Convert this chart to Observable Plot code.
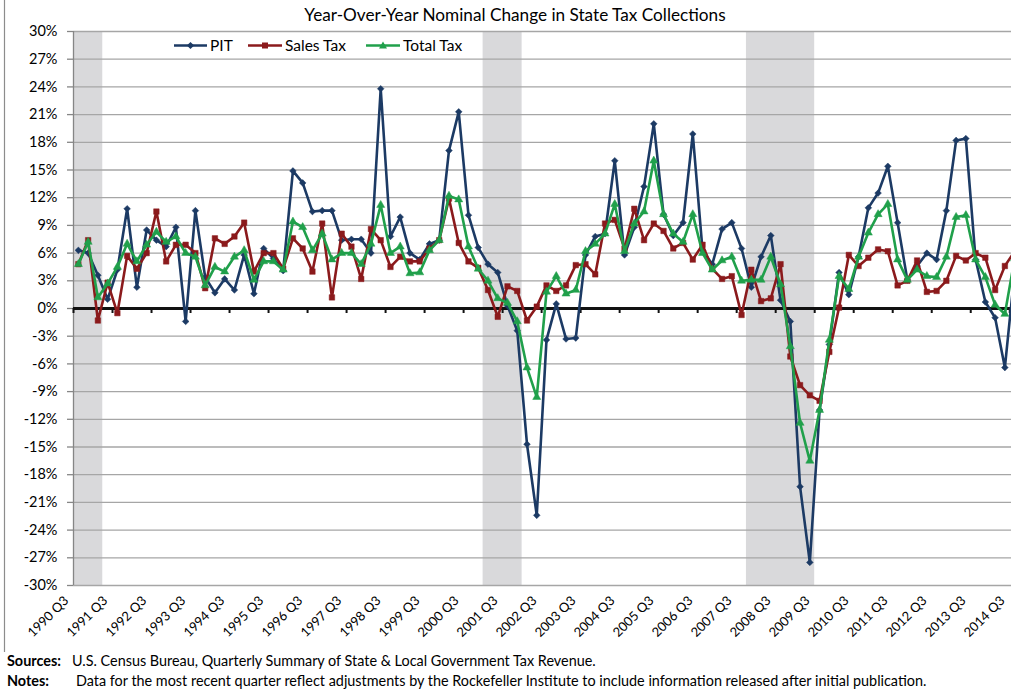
<!DOCTYPE html>
<html><head><meta charset="utf-8">
<script src="https://cdn.jsdelivr.net/npm/d3@7"></script>
<script src="https://cdn.jsdelivr.net/npm/@observablehq/plot@0.6"></script>
<style>
html,body{margin:0;padding:0;background:#fff;overflow:hidden;}
#wrap{position:relative;width:1011px;height:692px;overflow:hidden;font-family:Lato,"Open Sans",sans-serif;color:#000;}
#title{position:absolute;left:0;width:1030px;top:4px;text-align:center;font-size:17.2px;}
#chart{position:absolute;left:0;top:0;}
.note{position:absolute;font-size:14.4px;white-space:nowrap;}
.note b{position:absolute;left:0;}
.note span{position:absolute;}
</style></head>
<body><div id="wrap">
<div id="chart"></div>
<div id="title">Year-Over-Year Nominal Change in State Tax Collections</div>
<div class="note" style="left:7px;top:652px;"><b>Sources:</b><span style="left:65px">U.S. Census Bureau, Quarterly Summary of State &amp; Local Government Tax Revenue.</span></div>
<div class="note" style="left:7px;top:672px;"><b>Notes:</b><span style="left:69px">Data for the most recent quarter reflect adjustments by the Rockefeller Institute to include information released after initial publication.</span></div>
</div>
<script>
const tickLabels = ["1990 Q3","1991 Q3","1992 Q3","1993 Q3","1994 Q3","1995 Q3","1996 Q3","1997 Q3","1998 Q3","1999 Q3","2000 Q3","2001 Q3","2002 Q3","2003 Q3","2004 Q3","2005 Q3","2006 Q3","2007 Q3","2008 Q3","2009 Q3","2010 Q3","2011 Q3","2012 Q3","2013 Q3","2014 Q3"];
const pit = [6.3,6.0,3.6,1.0,4.2,10.8,2.3,8.5,7.4,6.7,
  8.8,-1.4,10.6,3.4,1.7,3.2,2.0,5.8,1.6,6.5,
  5.4,4.1,14.9,13.6,10.5,10.6,10.6,7.4,7.5,7.5,
  6.0,23.8,7.8,9.9,6.0,5.3,7.0,7.4,17.1,21.3,
  10.1,6.6,4.8,3.9,0.3,-2.4,-14.7,-22.4,-3.4,0.5,
  -3.3,-3.2,5.8,7.8,8.1,16.0,5.8,8.8,13.2,20.0,
  10.2,7.9,9.3,18.9,6.3,4.8,8.6,9.3,6.5,2.3,
  5.6,7.9,0.9,-1.4,-19.3,-27.5,-11.0,-3.9,3.9,1.5,
  5.6,10.9,12.5,15.4,9.3,3.1,4.6,6.0,5.3,10.6,
  18.2,18.4,5.3,0.7,-1.0,-6.4,4.0];
const sales = [4.8,7.4,-1.3,2.8,-0.5,5.7,4.3,6.0,10.5,5.1,
  6.9,6.9,6.0,2.2,7.6,7.0,7.8,9.3,4.0,6.0,
  6.0,4.3,7.6,6.5,4.0,9.2,1.2,8.1,6.7,3.2,
  8.6,7.4,4.5,5.6,5.1,5.1,6.5,7.4,11.9,7.1,
  5.1,4.4,2.0,-0.9,2.4,1.9,-1.3,0.2,2.5,1.9,
  2.5,4.7,4.8,3.7,9.2,9.6,6.5,10.8,7.4,9.2,
  8.4,6.5,7.1,5.3,6.9,4.3,3.2,3.5,-0.7,4.2,
  0.8,1.1,4.8,-5.2,-8.3,-9.4,-10.0,-4.7,0.1,5.8,
  4.6,5.5,6.4,6.2,2.5,3.0,5.2,1.8,1.9,3.0,
  5.7,5.2,6.0,5.5,2.0,4.6,6.2];
const total = [4.8,7.2,1.2,2.7,4.5,7.0,5.1,6.9,8.3,7.2,
  7.8,6.0,5.6,2.5,4.5,4.0,5.6,6.3,3.1,5.1,
  5.1,4.2,9.4,8.8,6.3,8.1,5.3,6.0,6.0,4.8,
  7.0,11.2,6.0,6.7,3.8,3.9,6.3,7.4,12.2,11.8,
  6.7,4.3,3.0,1.1,0.6,-1.4,-6.4,-9.6,1.8,3.5,
  1.6,2.0,6.2,7.0,8.1,11.3,6.2,9.2,10.5,16.0,
  10.2,8.1,7.2,10.2,6.0,4.2,5.2,5.6,3.0,3.1,
  3.1,5.6,2.6,-4.1,-12.4,-16.5,-11.0,-3.4,3.5,2.1,
  5.6,8.2,10.2,11.3,5.3,3.1,4.2,3.5,3.4,5.6,
  9.9,10.1,5.3,3.4,0.4,-0.6,5.4];
// recession quarters (first and last category index)
const recessions = [[0,2],[42,45],[69,75]];
const yTicks = d3.range(-30, 31, 3);

const C = {pit:"#1c3a64", sales:"#8b1a1c", total:"#20a04b", grid:"#a6a6a6", axis:"#868686", shade:"#d9d9db"};
const rows = pit.map((v,i) => ({i, pit:v, sales:sales[i], total:total[i]}));
const font = "Lato, 'Open Sans', sans-serif";

const chart = Plot.plot({
  width: 1020, height: 650,
  marginLeft: 73, marginRight: 1, marginTop: 31, marginBottom: 65,
  style: "max-width:none;background:transparent;font-family:Lato,'Open Sans',sans-serif;",
  x: {domain: [-0.5, pit.length - 0.5], axis: null},
  y: {domain: [-30, 30], axis: null},
  marks: [
    Plot.rect(recessions, {x1: d => d[0] - 0.5, x2: d => d[1] + 0.5, y1: -30, y2: 30, fill: C.shade}),
    Plot.ruleY(yTicks.filter(v => v !== 0), {stroke: C.grid, strokeWidth: 1.3}),
    Plot.ruleX([-0.5], {y1: -30, y2: 30, stroke: C.axis, strokeWidth: 1.3}),
    Plot.ruleY(yTicks, {x1: -0.5, x2: -0.5, insetLeft: -6, stroke: C.axis, strokeWidth: 1.3}),
    Plot.text(yTicks, {y: d => d, text: d => `${d}%`, frameAnchor: "left", textAnchor: "end", dx: -16, fontSize: 14.5, fill: "#000", fontFamily: font}),
    Plot.ruleY([0], {stroke: "#111", strokeWidth: 3}),
    Plot.ruleX(tickLabels.map((d, k) => k * 4 - 0.5), {y1: 0, y2: 0, insetBottom: -5, stroke: "#111", strokeWidth: 2}),
    Plot.text(tickLabels, {x: (d, k) => k * 4, text: d => d, frameAnchor: "bottom", rotate: -45, textAnchor: "end", dx: -9, dy: 16, fontSize: 13, fill: "#000", fontFamily: font}),
    Plot.line(rows, {x: "i", y: "pit", stroke: C.pit, strokeWidth: 2.6}),
    Plot.dot(rows, {x: "i", y: "pit", symbol: "diamond2", r: 3, fill: C.pit, stroke: C.pit, strokeWidth: 0.5}),
    Plot.line(rows, {x: "i", y: "sales", stroke: C.sales, strokeWidth: 2.6}),
    Plot.dot(rows, {x: "i", y: "sales", symbol: "square", r: 3.1, fill: C.sales, stroke: C.sales, strokeWidth: 0.5}),
    Plot.line(rows, {x: "i", y: "total", stroke: C.total, strokeWidth: 2.6}),
    Plot.dot(rows, {x: "i", y: "total", symbol: "triangle", r: 3, fill: C.total, stroke: C.total, strokeWidth: 0.5})
  ]
});
document.getElementById("chart").appendChild(chart);

// legend + chart border overlay
const legendItems = [
  {label: "PIT", color: C.pit, shape: "M0,-3.6L3.6,0L0,3.6L-3.6,0Z", x0: 174, x1: 207},
  {label: "Sales Tax", color: C.sales, shape: "M-3,-3H3V3H-3Z", x0: 248, x1: 282},
  {label: "Total Tax", color: C.total, shape: "M0,-4L4,3H-4Z", x0: 366, x1: 400}
];
const ov = d3.select("#wrap").append("svg")
  .attr("width", 1011).attr("height", 692)
  .style("position", "absolute").style("left", 0).style("top", 0).style("pointer-events", "none");
ov.append("line").attr("x1", 4.5).attr("x2", 4.5).attr("y1", 0).attr("y2", 652).attr("stroke", "#8c8c8c").attr("stroke-width", 1.2);
const g = ov.selectAll("g.li").data(legendItems).join("g").attr("class", "li");
g.append("line").attr("x1", d => d.x0).attr("x2", d => d.x1).attr("y1", 45.5).attr("y2", 45.5)
  .attr("stroke", d => d.color).attr("stroke-width", 2.6);
g.append("path").attr("d", d => d.shape).attr("transform", d => `translate(${(d.x0 + d.x1) / 2},45.5)`).attr("fill", d => d.color);
g.append("text").attr("x", d => d.x1 + 3).attr("y", 51).text(d => d.label)
  .attr("font-family", font).attr("font-size", 15.5).attr("fill", "#000");
</script>
</body></html>
